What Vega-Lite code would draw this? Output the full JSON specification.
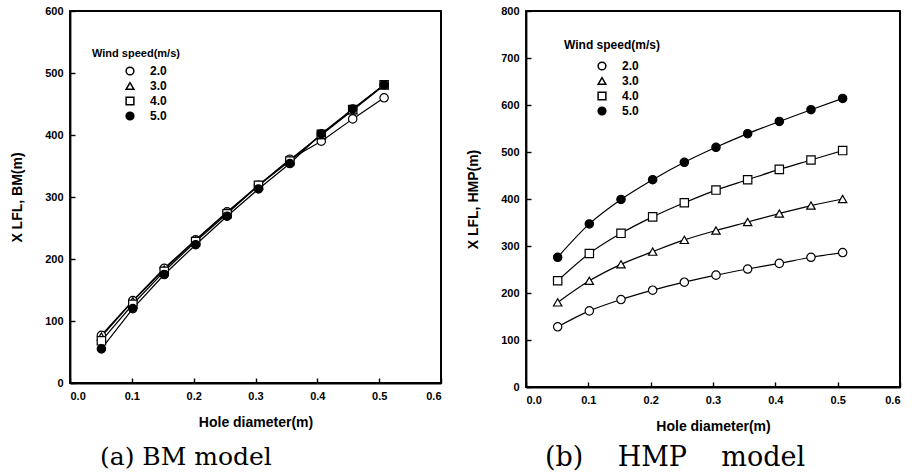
{
  "$schema": "https://vega.github.io/schema/vega-lite/v6.json",
  "background": "white",
  "padding": {"left": 9, "top": 4, "right": 5, "bottom": 2},
  "spacing": 22,
  "config": {
    "view": {"stroke": "black", "strokeWidth": 1.8},
    "font": "Liberation Sans",
    "axis": {
      "grid": false,
      "domainColor": "black",
      "domainWidth": 1.8,
      "tickColor": "black",
      "tickSize": -5,
      "tickWidth": 1.4,
      "labelFont": "Liberation Sans",
      "labelFontWeight": "bold",
      "labelFontSize": 11,
      "labelColor": "black",
      "titleFont": "Liberation Sans",
      "titleFontWeight": "bold",
      "titleFontSize": 14,
      "titleColor": "black"
    },
    "legend": {
      "titleFont": "Liberation Sans",
      "titleFontWeight": "bold",
      "titleFontSize": 11,
      "titleColor": "black",
      "labelFont": "Liberation Sans",
      "labelFontWeight": "bold",
      "labelFontSize": 12,
      "labelColor": "black"
    }
  },
  "datasets": {
    "frame": [{"x0": 0, "x1": 0.6}],
    "bm": [
      {"d": 0.0508, "w": "2.0", "y": 77}, {"d": 0.1016, "w": "2.0", "y": 133}, {"d": 0.1524, "w": "2.0", "y": 185}, {"d": 0.2032, "w": "2.0", "y": 231}, {"d": 0.254, "w": "2.0", "y": 276}, {"d": 0.3048, "w": "2.0", "y": 319}, {"d": 0.3556, "w": "2.0", "y": 361}, {"d": 0.4064, "w": "2.0", "y": 390}, {"d": 0.4572, "w": "2.0", "y": 426}, {"d": 0.508, "w": "2.0", "y": 460},
      {"d": 0.0508, "w": "3.0", "y": 75}, {"d": 0.1016, "w": "3.0", "y": 132}, {"d": 0.1524, "w": "3.0", "y": 183}, {"d": 0.2032, "w": "3.0", "y": 230}, {"d": 0.254, "w": "3.0", "y": 275}, {"d": 0.3048, "w": "3.0", "y": 318}, {"d": 0.3556, "w": "3.0", "y": 360}, {"d": 0.4064, "w": "3.0", "y": 400}, {"d": 0.4572, "w": "3.0", "y": 440}, {"d": 0.508, "w": "3.0", "y": 480},
      {"d": 0.0508, "w": "4.0", "y": 68}, {"d": 0.1016, "w": "4.0", "y": 127}, {"d": 0.1524, "w": "4.0", "y": 180}, {"d": 0.2032, "w": "4.0", "y": 228}, {"d": 0.254, "w": "4.0", "y": 273}, {"d": 0.3048, "w": "4.0", "y": 319}, {"d": 0.3556, "w": "4.0", "y": 358}, {"d": 0.4064, "w": "4.0", "y": 401}, {"d": 0.4572, "w": "4.0", "y": 441}, {"d": 0.508, "w": "4.0", "y": 481},
      {"d": 0.0508, "w": "5.0", "y": 55}, {"d": 0.1016, "w": "5.0", "y": 120}, {"d": 0.1524, "w": "5.0", "y": 175}, {"d": 0.2032, "w": "5.0", "y": 223}, {"d": 0.254, "w": "5.0", "y": 269}, {"d": 0.3048, "w": "5.0", "y": 313}, {"d": 0.3556, "w": "5.0", "y": 354}, {"d": 0.4064, "w": "5.0", "y": 402}, {"d": 0.4572, "w": "5.0", "y": 442}, {"d": 0.508, "w": "5.0", "y": 481}
    ],
    "hmp": [
      {"d": 0.0508, "w": "2.0", "y": 128}, {"d": 0.1016, "w": "2.0", "y": 162}, {"d": 0.1524, "w": "2.0", "y": 186}, {"d": 0.2032, "w": "2.0", "y": 206}, {"d": 0.254, "w": "2.0", "y": 223}, {"d": 0.3048, "w": "2.0", "y": 238}, {"d": 0.3556, "w": "2.0", "y": 251}, {"d": 0.4064, "w": "2.0", "y": 263}, {"d": 0.4572, "w": "2.0", "y": 276}, {"d": 0.508, "w": "2.0", "y": 286},
      {"d": 0.0508, "w": "3.0", "y": 180}, {"d": 0.1016, "w": "3.0", "y": 226}, {"d": 0.1524, "w": "3.0", "y": 261}, {"d": 0.2032, "w": "3.0", "y": 288}, {"d": 0.254, "w": "3.0", "y": 313}, {"d": 0.3048, "w": "3.0", "y": 333}, {"d": 0.3556, "w": "3.0", "y": 351}, {"d": 0.4064, "w": "3.0", "y": 369}, {"d": 0.4572, "w": "3.0", "y": 386}, {"d": 0.508, "w": "3.0", "y": 400},
      {"d": 0.0508, "w": "4.0", "y": 226}, {"d": 0.1016, "w": "4.0", "y": 284}, {"d": 0.1524, "w": "4.0", "y": 327}, {"d": 0.2032, "w": "4.0", "y": 362}, {"d": 0.254, "w": "4.0", "y": 392}, {"d": 0.3048, "w": "4.0", "y": 419}, {"d": 0.3556, "w": "4.0", "y": 441}, {"d": 0.4064, "w": "4.0", "y": 463}, {"d": 0.4572, "w": "4.0", "y": 483}, {"d": 0.508, "w": "4.0", "y": 503},
      {"d": 0.0508, "w": "5.0", "y": 276}, {"d": 0.1016, "w": "5.0", "y": 347}, {"d": 0.1524, "w": "5.0", "y": 399}, {"d": 0.2032, "w": "5.0", "y": 441}, {"d": 0.254, "w": "5.0", "y": 478}, {"d": 0.3048, "w": "5.0", "y": 510}, {"d": 0.3556, "w": "5.0", "y": 539}, {"d": 0.4064, "w": "5.0", "y": 565}, {"d": 0.4572, "w": "5.0", "y": 590}, {"d": 0.508, "w": "5.0", "y": 614}
    ]
  },
  "resolve": {"scale": {"shape": "independent", "fill": "independent", "x": "independent", "y": "independent"}, "legend": {"shape": "independent", "fill": "independent"}},
  "hconcat": [
    {
      "width": 371,
      "height": 372,
      "title": {"text": "(a) BM model", "orient": "bottom", "anchor": "start", "frame": "group", "dx": 30, "offset": 16, "font": "DejaVu Serif", "fontSize": 25, "fontWeight": "normal", "color": "black"},
      "layer": [
        {
          "data": {"name": "frame"},
          "mark": {"type": "rule", "color": "black", "strokeWidth": 1.8},
          "encoding": {
            "x": {"field": "x0", "type": "quantitative", "scale": {"domain": [0, 0.6]}, "axis": {"orient": "bottom", "values": [0, 0.1, 0.2, 0.3, 0.4, 0.5, 0.6], "format": ".1f", "title": "Hole diameter(m)", "labelPadding": 12, "titlePadding": 14}},
            "x2": {"field": "x1"},
            "y": {"datum": 600, "type": "quantitative", "scale": {"domain": [0, 600]}, "axis": {"orient": "left", "values": [0, 100, 200, 300, 400, 500, 600], "title": "X LFL, BM(m)", "labelPadding": 12, "titlePadding": 20}}
          }
        },
        {
          "data": {"name": "frame"},
          "mark": {"type": "rule", "color": "black", "strokeWidth": 1.8},
          "encoding": {
            "x": {"field": "x1", "type": "quantitative"},
            "y": {"datum": 0, "type": "quantitative"},
            "y2": {"datum": 600}
          }
        },
        {
          "data": {"name": "bm"},
          "mark": {"type": "line", "color": "black", "strokeWidth": 1.2},
          "encoding": {
            "x": {"field": "d", "type": "quantitative"},
            "y": {"field": "y", "type": "quantitative"},
            "detail": {"field": "w"}
          }
        },
        {
          "data": {"name": "bm"},
          "mark": {"type": "point", "filled": true, "stroke": "black", "strokeWidth": 1.2, "size": 70, "opacity": 1},
          "encoding": {
            "x": {"field": "d", "type": "quantitative"},
            "y": {"field": "y", "type": "quantitative"},
            "shape": {"field": "w", "type": "nominal", "scale": {"domain": ["2.0", "3.0", "4.0", "5.0"], "range": ["circle", "triangle-up", "square", "circle"]}, "legend": {"title": "Wind speed(m/s)", "orient": "none", "legendX": 22, "legendY": 37, "symbolOffset": 32, "labelOffset": 14, "rowPadding": 1, "symbolSize": 60, "titlePadding": 6, "encode": {"symbols": {"update": {"stroke": {"value": "black"}, "strokeWidth": {"value": 1.2}}}}}},
            "fill": {"field": "w", "type": "nominal", "scale": {"domain": ["2.0", "3.0", "4.0", "5.0"], "range": ["white", "white", "white", "black"]}, "legend": {"title": "Wind speed(m/s)", "orient": "none", "legendX": 22, "legendY": 37, "symbolOffset": 32, "labelOffset": 14, "rowPadding": 1, "symbolSize": 60, "titlePadding": 6, "encode": {"symbols": {"update": {"stroke": {"value": "black"}, "strokeWidth": {"value": 1.2}}}}}}
          }
        }
      ]
    },
    {
      "width": 374,
      "height": 376,
      "title": {"text": "(b)\u00a0\u00a0\u00a0 HMP\u00a0\u00a0\u00a0 model", "orient": "bottom", "anchor": "start", "frame": "group", "dx": 19, "offset": 12, "font": "DejaVu Serif", "fontSize": 27, "fontWeight": "normal", "color": "black"},
      "layer": [
        {
          "data": {"name": "frame"},
          "mark": {"type": "rule", "color": "black", "strokeWidth": 1.8},
          "encoding": {
            "x": {"field": "x0", "type": "quantitative", "scale": {"domain": [0, 0.6]}, "axis": {"orient": "bottom", "values": [0, 0.1, 0.2, 0.3, 0.4, 0.5, 0.6], "format": ".1f", "title": "Hole diameter(m)", "labelPadding": 12, "titlePadding": 14}},
            "x2": {"field": "x1"},
            "y": {"datum": 800, "type": "quantitative", "scale": {"domain": [0, 800]}, "axis": {"orient": "left", "values": [0, 100, 200, 300, 400, 500, 600, 700, 800], "title": "X LFL, HMP(m)", "labelPadding": 12, "titlePadding": 20}}
          }
        },
        {
          "data": {"name": "frame"},
          "mark": {"type": "rule", "color": "black", "strokeWidth": 1.8},
          "encoding": {
            "x": {"field": "x1", "type": "quantitative"},
            "y": {"datum": 0, "type": "quantitative"},
            "y2": {"datum": 800}
          }
        },
        {
          "data": {"name": "hmp"},
          "mark": {"type": "line", "color": "black", "strokeWidth": 1.2, "interpolate": "monotone"},
          "encoding": {
            "x": {"field": "d", "type": "quantitative"},
            "y": {"field": "y", "type": "quantitative"},
            "detail": {"field": "w"}
          }
        },
        {
          "data": {"name": "hmp"},
          "mark": {"type": "point", "filled": true, "stroke": "black", "strokeWidth": 1.2, "size": 70, "opacity": 1},
          "encoding": {
            "x": {"field": "d", "type": "quantitative"},
            "y": {"field": "y", "type": "quantitative"},
            "shape": {"field": "w", "type": "nominal", "scale": {"domain": ["2.0", "3.0", "4.0", "5.0"], "range": ["circle", "triangle-up", "square", "circle"]}, "legend": {"title": "Wind speed(m/s)", "orient": "none", "legendX": 38, "legendY": 29, "symbolOffset": 32, "labelOffset": 14, "rowPadding": 1, "symbolSize": 60, "titlePadding": 8, "titleFontSize": 12, "encode": {"symbols": {"update": {"stroke": {"value": "black"}, "strokeWidth": {"value": 1.2}}}}}},
            "fill": {"field": "w", "type": "nominal", "scale": {"domain": ["2.0", "3.0", "4.0", "5.0"], "range": ["white", "white", "white", "black"]}, "legend": {"title": "Wind speed(m/s)", "orient": "none", "legendX": 38, "legendY": 29, "symbolOffset": 32, "labelOffset": 14, "rowPadding": 1, "symbolSize": 60, "titlePadding": 8, "titleFontSize": 12, "encode": {"symbols": {"update": {"stroke": {"value": "black"}, "strokeWidth": {"value": 1.2}}}}}}
          }
        }
      ]
    }
  ]
}
